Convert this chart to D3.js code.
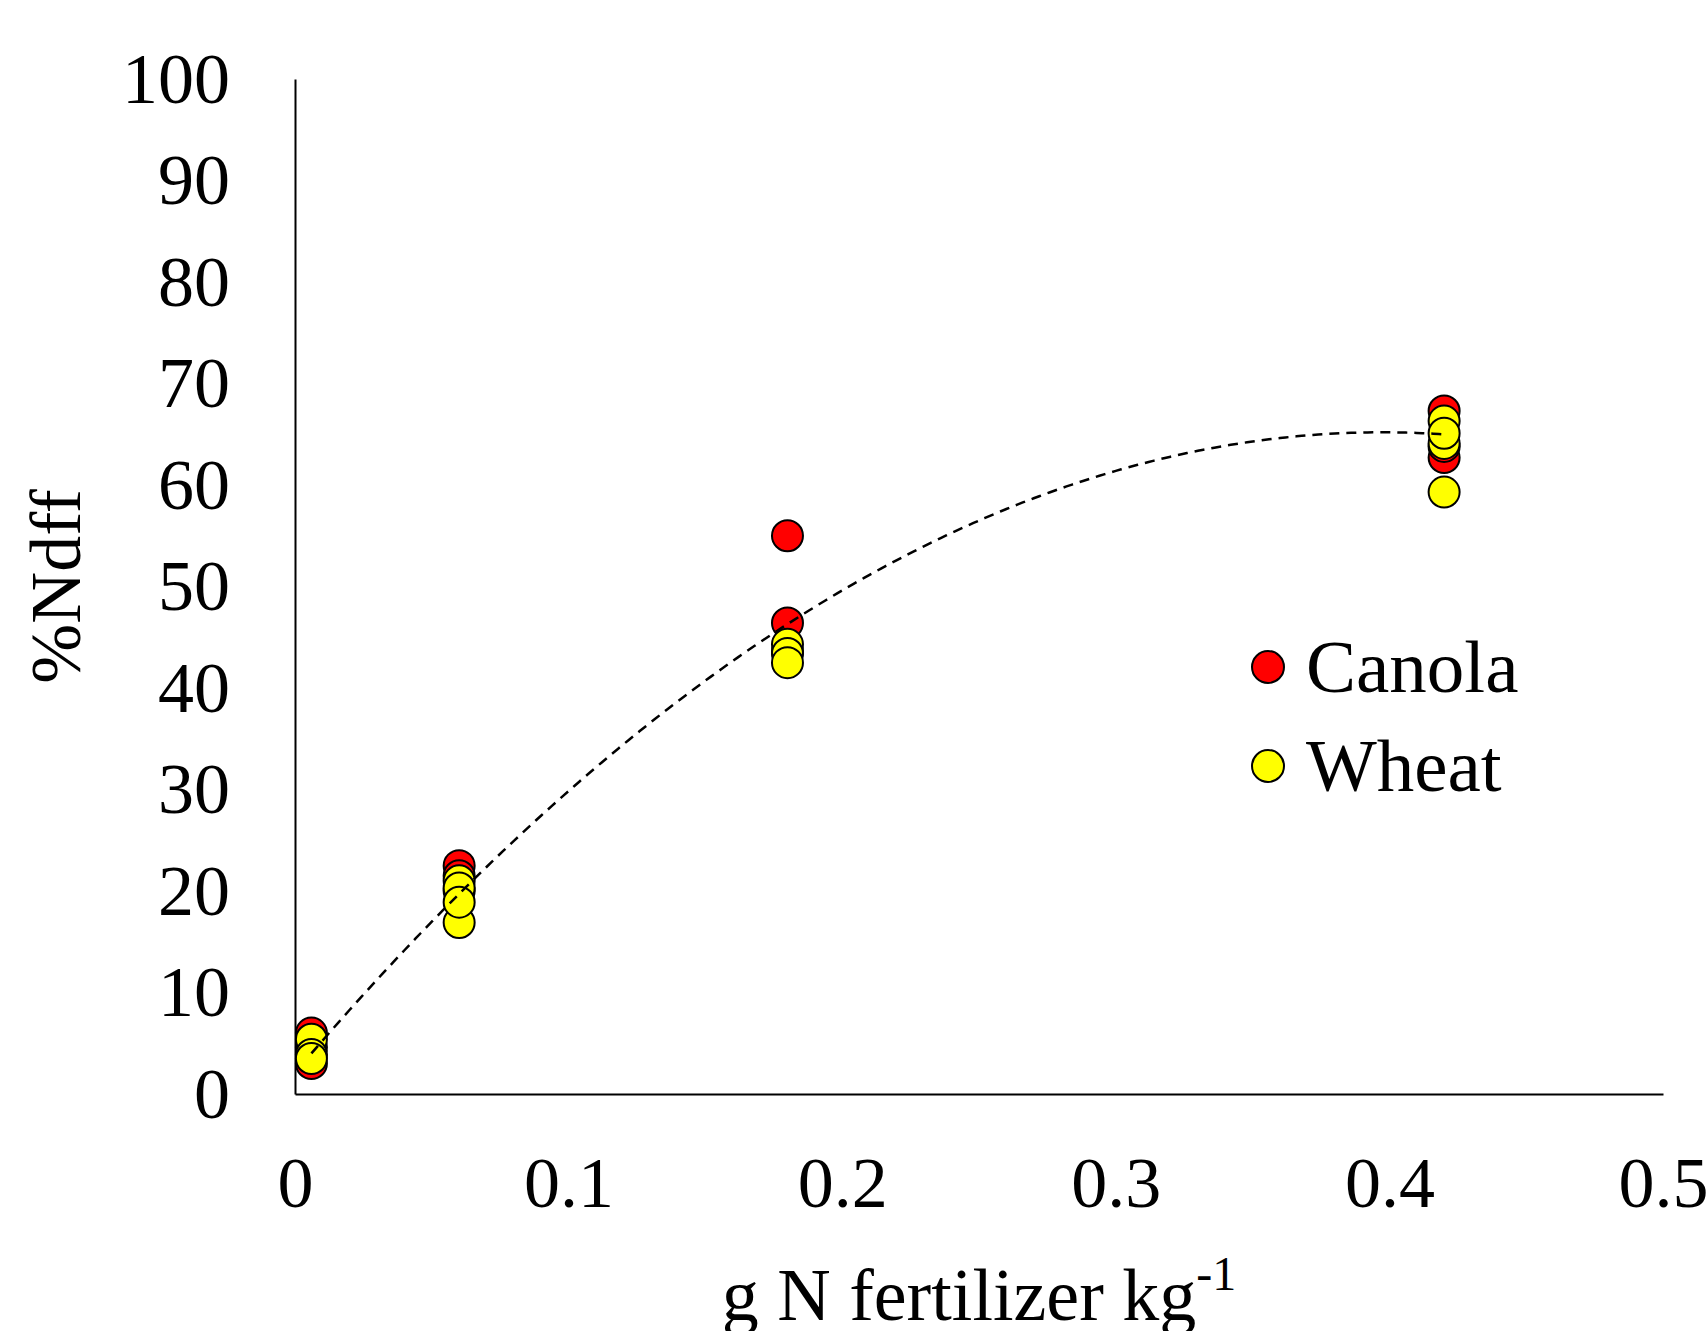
<!DOCTYPE html>
<html><head><meta charset="utf-8">
<script src="https://cdn.jsdelivr.net/npm/d3@7"></script>
<style>html,body{margin:0;padding:0;background:#fff;overflow:hidden}</style>
</head><body>
<svg id="chart" width="1706" height="1331"></svg>
<script>
// Data
const xLevels = [0.006, 0.06, 0.18, 0.42];
const canolaValues = [
  [6.0, 3.0, 4.6],
  [22.5, 21.5, 20.0],
  [55.0, 46.4, 43.6],
  [67.3, 62.7, 63.8]
];
const wheatValues = [
  [5.4, 3.9, 3.5],
  [21.0, 20.3, 16.9, 18.9],
  [44.3, 43.4, 42.5],
  [66.3, 64.1, 59.3, 65.1]
];
const trendCoef = [2.11, 317.3, -399.0]; // quadratic trendline a + b x + c x^2
const xTicks = [0, 0.1, 0.2, 0.3, 0.4, 0.5];
const yTicks = [0, 10, 20, 30, 40, 50, 60, 70, 80, 90, 100];
const seriesNames = ["Canola", "Wheat"];
const seriesColors = ["#ff0000", "#ffff00"];

const font = '"Liberation Serif","Times New Roman",serif';
const svg = d3.select("#chart");
const m = {left: 295, right: 1663, top: 79, bottom: 1094};
const x = d3.scaleLinear().domain([0, 0.5]).range([m.left, m.right]);
const y = d3.scaleLinear().domain([0, 100]).range([m.bottom, m.top]);

// Axes
const xAxis = svg.append("g").attr("transform", `translate(0,${m.bottom})`)
  .call(d3.axisBottom(x).tickValues(xTicks).tickSize(0).tickPadding(62)
    .tickFormat(d => d3.format("")(+d.toFixed(1))));
xAxis.select(".domain").attr("stroke", "#000").attr("stroke-width", 2);
xAxis.selectAll("text").attr("font-family", font).attr("font-size", 72).attr("fill", "#000");

const yAxis = svg.append("g").attr("transform", `translate(${m.left},0)`)
  .call(d3.axisLeft(y).tickValues(yTicks).tickSize(0).tickPadding(65));
yAxis.select(".domain").attr("stroke", "#000").attr("stroke-width", 2);
yAxis.selectAll("text").attr("font-family", font).attr("font-size", 72).attr("fill", "#000");

// Points
const pts = [];
[canolaValues, wheatValues].forEach((series, si) => {
  series.forEach((vals, li) => vals.forEach(v => pts.push({s: si, x: xLevels[li], y: v})));
});
svg.append("g").selectAll("circle").data(pts).join("circle")
  .attr("cx", d => x(d.x)).attr("cy", d => y(d.y)).attr("r", 15.5)
  .attr("fill", d => seriesColors[d.s]).attr("stroke", "#000").attr("stroke-width", 2);

// Trendline
const xs = d3.range(xLevels[0], xLevels[xLevels.length - 1] + 1e-9, 0.002);
const line = d3.line().x(d => x(d)).y(d => y(trendCoef[0] + trendCoef[1] * d + trendCoef[2] * d * d));
svg.append("path").datum(xs).attr("d", line).attr("fill", "none")
  .attr("stroke", "#000").attr("stroke-width", 2.5).attr("stroke-dasharray", "10,7");

// Axis titles
const xt = svg.append("text").attr("x", (m.left + m.right) / 2).attr("y", 1320)
  .attr("text-anchor", "middle").attr("font-family", font).attr("font-size", 74);
xt.append("tspan").text("g N fertilizer kg");
xt.append("tspan").attr("dy", -30).attr("font-size", 48).text("-1");

svg.append("text").attr("transform", `translate(80,${(m.top + m.bottom) / 2}) rotate(-90)`)
  .attr("text-anchor", "middle").attr("font-family", font).attr("font-size", 72).text("%Ndff");

// Legend
const lg = svg.append("g");
seriesNames.forEach((n, i) => {
  const cy = 667 + i * 99;
  lg.append("circle").attr("cx", 1268).attr("cy", cy).attr("r", 16)
    .attr("fill", seriesColors[i]).attr("stroke", "#000").attr("stroke-width", 2);
  lg.append("text").attr("x", 1306).attr("y", cy + 25).attr("font-family", font)
    .attr("font-size", 75).text(n);
});
</script>
</body></html>
